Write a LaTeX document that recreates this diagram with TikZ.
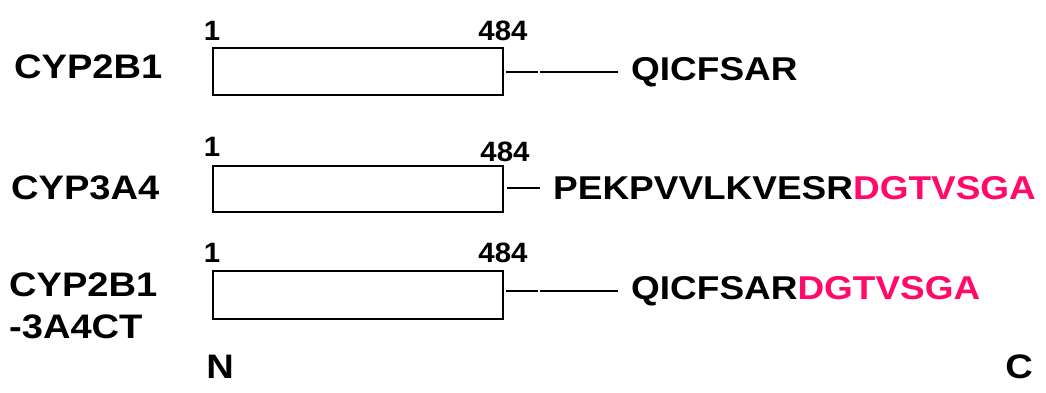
\documentclass[tikz,border=0pt]{standalone}
\usepackage{fontspec}
\setmainfont{Liberation Sans}
\newfontfamily\widesans[FakeStretch=1.12]{Liberation Sans}
\newfontfamily\numsans[FakeStretch=1.05]{Liberation Sans}
\definecolor{seqpink}{HTML}{FF0A6A}
\tikzset{
  protbox/.style={draw=black, line width=1.6pt, fill=white, minimum width=290pt, minimum height=47pt, inner sep=0pt, anchor=north west},
  lab/.style={font=\widesans\fontsize{34}{42}\selectfont\bfseries, inner sep=0pt, anchor=west},
  num/.style={font=\numsans\fontsize{28}{30}\selectfont\bfseries, inner sep=0pt},
  seq/.style={font=\widesans\fontsize{33}{40}\selectfont\bfseries, inner sep=0pt, anchor=west},
  link/.style={line width=1.8pt},
}
\begin{document}
\begin{tikzpicture}[x=1pt,y=-1pt]
\useasboundingbox (0,0) rectangle (1046,393);
% row 1
\node[lab] (l1) at (14,67) {CYP2B1};
\node[protbox] (b1) at (212,47) {};
\node[num] (s1) at (212,31) {1};
\node[num] (e1) at (503,31) {484};
\coordinate (a1) at (506,72);
\coordinate (m1) at (538,72);
\coordinate (n1) at (540,72);
\coordinate (t1) at (618,72);
\node[seq] (q1) at (631,72) {QICFSAR};
\draw[link] (a1) -- (m1);
\draw[link] (n1) -- (t1);
% row 2
\node[lab] (l2) at (11,188) {CYP3A4};
\node[protbox, minimum height=46pt] (b2) at (212,165) {};
\node[num] (s2) at (212,147) {1};
\node[num] (e2) at (505,152) {484};
\coordinate (a2) at (507,188);
\coordinate (t2) at (540,188);
\node[seq] (q2) at (553,188) {PEKPVVLKVESR\textcolor{seqpink}{DGTVSGA}};
\draw[link] (a2) -- (t2);
% row 3
\node[lab, align=left] (l3) at (9,306) {CYP2B1\\-3A4CT};
\node[protbox, minimum height=48pt] (b3) at (212,270) {};
\node[num] (s3) at (212,253) {1};
\node[num] (e3) at (503,253) {484};
\coordinate (a3) at (506,291);
\coordinate (m3) at (538,291);
\coordinate (n3) at (540,291);
\coordinate (t3) at (618,291);
\node[seq] (q3) at (631,291) {QICFSAR\textcolor{seqpink}{DGTVSGA}};
\draw[link] (a3) -- (m3);
\draw[link] (n3) -- (t3);
% termini
\node[lab, anchor=center] (nt) at (220,367) {N};
\node[lab, anchor=center] (ct) at (1019,367) {C};
\end{tikzpicture}
\end{document}
